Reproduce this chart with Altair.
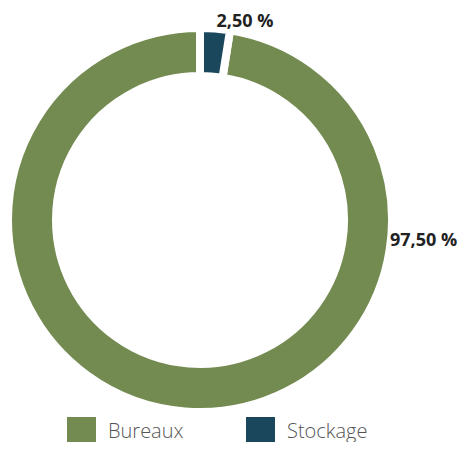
import altair as alt
import pandas as pd

categories = ["Bureaux", "Stockage"]
values = [97.5, 2.5]
labels = ["97,50 %", "2,50 %"]
colors = ["#738B50", "#1B475C"]

df = pd.DataFrame({"cat": categories, "val": values, "label": labels})

W, H = 454, 434
CX, CY = 192, 212

color = alt.Color(
    "cat:N",
    scale=alt.Scale(domain=categories, range=colors),
    legend=alt.Legend(
        title=None,
        orient="none",
        legendX=59,
        legendY=409,
        direction="horizontal",
        symbolType="square",
        symbolSize=841,
        symbolStrokeWidth=0,
        symbolOpacity=1,
        labelFont="Open Sans",
        labelFontSize=20,
        labelFontWeight=300,
        labelColor="#555555",
        labelOffset=12,
        columnPadding=62,
    ),
)

arcs = alt.Chart(df).mark_arc(
    outerRadius=192, innerRadius=144, stroke="white", strokeWidth=8
).encode(
    theta=alt.Theta("val:Q", stack=True),
    order=alt.Order("cat:N", sort="descending"),
    color=color,
    x=alt.value(CX),
    y=alt.value(CY),
)

lab_stock = alt.Chart(df).transform_filter(alt.datum.cat == "Stockage").mark_text(
    font="Open Sans", fontWeight="bold", fontSize=18, color="#222222", align="center", baseline="alphabetic"
).encode(text="label:N", x=alt.value(237), y=alt.value(19))

lab_bur = alt.Chart(df).transform_filter(alt.datum.cat == "Bureaux").mark_text(
    font="Open Sans", fontWeight="bold", fontSize=18, color="#222222", align="left", baseline="alphabetic"
).encode(text="label:N", x=alt.value(382), y=alt.value(238))

chart = alt.layer(arcs, lab_stock, lab_bur).properties(
    width=W, height=H, autosize=alt.AutoSizeParams(type="none"), padding=0
).configure_view(stroke=None)

chart.save("out.html", embed_options={"renderer": "svg", "actions": False})
